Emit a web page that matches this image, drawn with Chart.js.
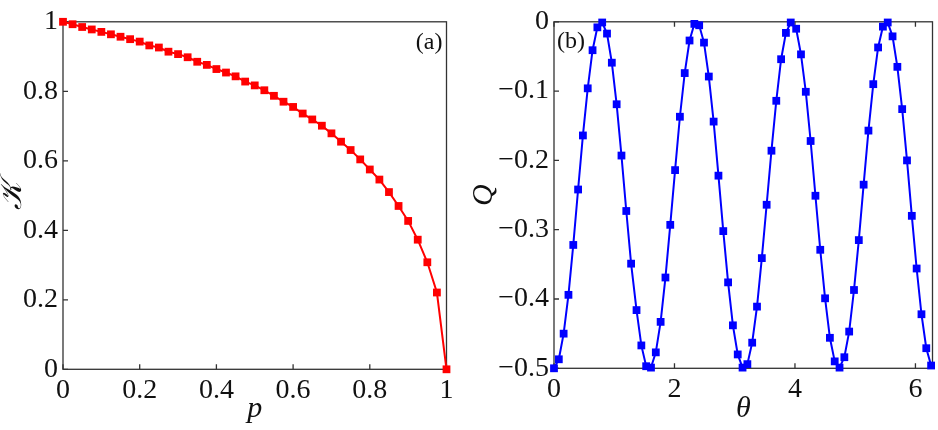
<!DOCTYPE html>
<html>
<head>
<meta charset="utf-8">
<script src="https://cdn.jsdelivr.net/npm/chart.js@4/dist/chart.umd.min.js"></script>
<style>
  html, body { margin: 0; padding: 0; background: #fff; }
  #wrap { position: relative; width: 938px; height: 430px; }
  .panel { position: absolute; top: 0; width: 469px; height: 430px; }
  #left { left: 0; }
  #right { left: 469px; }
</style>
</head>
<body>
<div id="wrap">
  <div class="panel" id="left"><canvas id="chartA" width="469" height="430"></canvas></div>
  <div class="panel" id="right"><canvas id="chartB" width="469" height="430"></canvas></div>
</div>
<script>
// panel (a): K against p
const p_values = [0, 0.025, 0.05, 0.075, 0.1, 0.125, 0.15, 0.175, 0.2, 0.225,
  0.25, 0.275, 0.3, 0.325, 0.35, 0.375, 0.4, 0.425, 0.45, 0.475,
  0.5, 0.525, 0.55, 0.575, 0.6, 0.625, 0.65, 0.675, 0.7, 0.725,
  0.75, 0.775, 0.8, 0.825, 0.85, 0.875, 0.9, 0.925, 0.95, 0.975, 1];
const k_values = [1.000, 0.993, 0.985, 0.978, 0.971, 0.964, 0.957, 0.950, 0.943, 0.932,
  0.926, 0.914, 0.907, 0.898, 0.885, 0.876, 0.864, 0.854, 0.843, 0.828,
  0.817, 0.803, 0.787, 0.770, 0.755, 0.736, 0.719, 0.701, 0.679, 0.655,
  0.631, 0.604, 0.575, 0.546, 0.510, 0.470, 0.427, 0.373, 0.308, 0.221, 0.000];
const p_ticks = [0, 0.2, 0.4, 0.6, 0.8, 1];
const k_ticks = [0, 0.2, 0.4, 0.6, 0.8, 1];

// panel (b): Q against theta
const theta_values = [0.00, 0.08, 0.16, 0.24, 0.32, 0.40, 0.48, 0.56, 0.64, 0.72,
  0.80, 0.88, 0.96, 1.04, 1.12, 1.20, 1.28, 1.37, 1.45, 1.53,
  1.61, 1.69, 1.77, 1.85, 1.93, 2.01, 2.09, 2.17, 2.25, 2.33,
  2.41, 2.49, 2.57, 2.65, 2.73, 2.81, 2.89, 2.97, 3.05, 3.13,
  3.21, 3.29, 3.37, 3.45, 3.53, 3.61, 3.69, 3.77, 3.85, 3.93,
  4.02, 4.10, 4.18, 4.26, 4.34, 4.42, 4.50, 4.58, 4.66, 4.74,
  4.82, 4.90, 4.98, 5.06, 5.14, 5.22, 5.30, 5.38, 5.46, 5.54,
  5.62, 5.70, 5.78, 5.86, 5.94, 6.02, 6.10, 6.18, 6.26];
const q_values = [-0.500, -0.487, -0.450, -0.394, -0.322, -0.242, -0.164, -0.096, -0.041, -0.008,
  -0.001, -0.017, -0.059, -0.119, -0.193, -0.273, -0.349, -0.416, -0.467, -0.497,
  -0.499, -0.477, -0.433, -0.369, -0.293, -0.214, -0.137, -0.074, -0.027, -0.003,
  -0.005, -0.030, -0.079, -0.144, -0.222, -0.302, -0.376, -0.438, -0.480, -0.499,
  -0.494, -0.463, -0.411, -0.341, -0.264, -0.186, -0.114, -0.054, -0.016, -0.001,
  -0.010, -0.047, -0.101, -0.172, -0.251, -0.329, -0.399, -0.456, -0.490, -0.499,
  -0.484, -0.447, -0.387, -0.315, -0.235, -0.157, -0.090, -0.037, -0.007, -0.001,
  -0.021, -0.065, -0.126, -0.200, -0.280, -0.356, -0.422, -0.471, -0.496];
const theta_ticks = [0, 2, 4, 6];
const q_ticks = [0, -0.1, -0.2, -0.3, -0.4, -0.5];

const serif = "'Liberation Serif', 'DejaVu Serif', serif";

function fmt(v) {
  return v < 0 ? "\u2212" + Math.abs(v) : String(v);
}

function toPoints(xs, ys) {
  return xs.map((x, i) => ({ x: x, y: ys[i] }));
}

// box round the plot, inward tick marks and the panel tag
const framePlugin = {
  id: "frame",
  beforeDatasetsDraw(chart, args, opts) {
    const { ctx, chartArea: a, scales } = chart;
    ctx.save();
    ctx.strokeStyle = "#333";
    ctx.lineWidth = 1.3;
    ctx.strokeRect(a.left, a.top, a.right - a.left, a.bottom - a.top);
    ctx.beginPath();
    scales.x.ticks.forEach(t => {
      const x = scales.x.getPixelForValue(t.value);
      ctx.moveTo(x, a.bottom); ctx.lineTo(x, a.bottom - 5);
      if (opts.topTicks) { ctx.moveTo(x, a.top); ctx.lineTo(x, a.top + 5); }
    });
    scales.y.ticks.forEach(t => {
      const y = scales.y.getPixelForValue(t.value);
      ctx.moveTo(a.left, y); ctx.lineTo(a.left + 5, y);
    });
    ctx.stroke();
    ctx.fillStyle = "#111";
    ctx.font = "24px " + serif;
    ctx.textBaseline = "middle";
    if (opts.tagSide === "right") {
      ctx.textAlign = "right";
      ctx.fillText(opts.tag, a.right - 4, a.top + 21);
    } else {
      ctx.textAlign = "left";
      ctx.fillText(opts.tag, a.left + 3, a.top + 20);
    }
    ctx.restore();
  }
};

function makeChart(id, cfg) {
  return new Chart(document.getElementById(id), {
    type: "line",
    data: {
      datasets: [{
        data: toPoints(cfg.xs, cfg.ys),
        borderColor: cfg.color,
        backgroundColor: cfg.color,
        borderWidth: 2,
        pointStyle: "rect",
        pointRadius: 5.5,
        pointBorderWidth: 0,
        pointBackgroundColor: cfg.color,
        tension: 0,
        clip: false
      }]
    },
    options: {
      responsive: false,
      animation: false,
      events: [],
      layout: { padding: { top: 15, right: cfg.padRight, bottom: 0, left: 0 } },
      plugins: {
        legend: { display: false },
        tooltip: { enabled: false },
        frame: { tag: cfg.tag, tagSide: cfg.tagSide, topTicks: cfg.topTicks }
      },
      scales: {
        x: {
          type: "linear",
          min: cfg.xMin, max: cfg.xMax,
          afterBuildTicks: s => { s.ticks = cfg.xTicks.map(v => ({ value: v })); },
          afterFit: s => { s.height = cfg.xHeight; },
          grid: { display: false, drawTicks: false },
          border: { display: false },
          ticks: { color: "#111", padding: 5, font: { family: serif, size: 28 }, callback: v => fmt(v), maxRotation: 0 },
          title: { display: true, text: cfg.xTitle, color: "#111", padding: { bottom: 6 },
                   font: { family: serif, size: 30, style: "italic", lineHeight: 1 } }
        },
        y: {
          type: "linear",
          min: cfg.yMin, max: cfg.yMax,
          afterBuildTicks: s => { s.ticks = cfg.yTicks.map(v => ({ value: v })); },
          afterFit: s => { s.width = cfg.yWidth; },
          grid: { display: false, drawTicks: false },
          border: { display: false },
          ticks: { color: "#111", padding: 5, font: { family: serif, size: 28 }, callback: v => fmt(v) },
          title: { display: true, text: cfg.yTitle, color: "#111", padding: { top: cfg.yTitlePad },
                   font: { family: serif, size: 30, style: "italic", lineHeight: 1 } }
        }
      }
    },
    plugins: [framePlugin]
  });
}

makeChart("chartA", {
  xs: p_values, ys: k_values, color: "#ff0000",
  xMin: 0, xMax: 1, yMin: 0, yMax: 1,
  xTicks: p_ticks, yTicks: k_ticks,
  xTitle: "p", yTitle: "\ud835\udca6",
  xHeight: 60.7, yWidth: 63, padRight: 22.5, yTitlePad: -2,
  tag: "(a)", tagSide: "right", topTicks: false
});

makeChart("chartB", {
  xs: theta_values, ys: q_values, color: "#0000ff",
  xMin: 0, xMax: 6.2832, yMin: -0.5, yMax: 0,
  xTicks: theta_ticks, yTicks: q_ticks,
  xTitle: "\u03b8", yTitle: "Q",
  xHeight: 61.7, yWidth: 85, padRight: 1.4, yTitlePad: 0,
  tag: "(b)", tagSide: "left", topTicks: true
});
</script>
</body>
</html>
